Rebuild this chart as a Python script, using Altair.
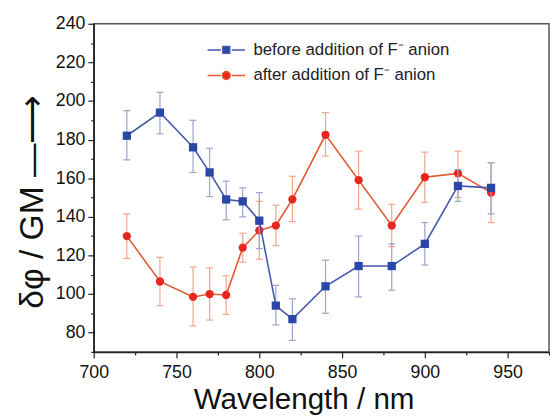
import altair as alt
import pandas as pd

wavelength = [720, 740, 760, 770, 780, 790, 800, 810, 820, 840, 860, 880, 900, 920, 940]

before = [182, 194, 176, 163, 149, 148, 138, 94, 87, 104, 114.5, 114.5, 126, 156, 155]
before_lo = [169.5, 183, 163, 150.5, 138.5, 140, 123.5, 84, 76, 90, 98.5, 102, 115, 148, 141.5]
before_hi = [195, 204.5, 190, 175.5, 158.5, 155, 152.5, 104.5, 97.5, 117.5, 130, 126, 137, 164.5, 168]

after = [130, 106.5, 98.5, 100, 99.5, 124, 133, 135.5, 149, 182.5, 159, 135.5, 160.5, 162.5, 152.5]
after_lo = [118.5, 94, 83.5, 86.5, 89.5, 116.5, 118, 125, 137.5, 171.5, 144, 124.5, 147.5, 150, 137]
after_hi = [141.5, 119, 114, 113.5, 109.5, 131.5, 148, 146, 161, 194, 174, 146.5, 173.5, 174, 168]

series_names = ["before addition of F\u207b anion", "after addition of F\u207b anion"]

x_ticks = [700, 725, 750, 775, 800, 825, 850, 875, 900, 925, 950, 975]
y_ticks = [70, 80, 90, 100, 110, 120, 130, 140, 150, 160, 170, 180, 190, 200, 210, 220, 230, 240]

BLUE_MARK, BLUE_LINE, BLUE_ERR = "#2a46a6", "#4558ad", "#9da2cd"
RED_MARK, RED_LINE, RED_ERR = "#e8261d", "#e4572f", "#f1a68b"

df_b = pd.DataFrame({"wl": wavelength, "v": before, "lo": before_lo, "hi": before_hi,
                     "series": series_names[0]})
df_a = pd.DataFrame({"wl": wavelength, "v": after, "lo": after_lo, "hi": after_hi,
                     "series": series_names[1]})
df_all = pd.concat([df_b, df_a], ignore_index=True)

FONT = "Liberation Sans"

x_axis = alt.Axis(
    values=x_ticks,
    labelExpr="datum.value % 50 === 0 && datum.value < 975 ? datum.label : ''",
    tickSize={"condition": {"test": "datum.value % 50 === 0", "value": 6}, "value": 3},
    grid=False, labelFlush=False, labelOverlap=False,
    domainColor="#222", domainWidth=1.5, tickColor="#222", tickWidth=1.2,
    labelColor="#111", labelFont=FONT, labelFontSize=18, labelPadding=6,
    titleFont=FONT, titleFontSize=30, titleFontWeight="normal", titleColor="#111",
    titleX=213, titleY=57, titleBaseline="alphabetic", titleAlign="center",
)
y_axis = alt.Axis(
    values=y_ticks,
    labelExpr="datum.value % 20 === 0 ? datum.label : ''",
    tickSize={"condition": {"test": "datum.value % 20 === 0", "value": 6}, "value": 3},
    grid=False, labelOverlap=False,
    domainColor="#222", domainWidth=1.5, tickColor="#222", tickWidth=1.2,
    labelColor="#111", labelFont=FONT, labelFontSize=18, labelPadding=3,
    titleFont=FONT, titleFontSize=34, titleFontWeight="normal", titleColor="#111",
    titleX=-52, titleY=180, titleBaseline="alphabetic", titleAlign="center", titleAngle=270,
)
x_scale = alt.Scale(domain=[700, 975], nice=False, zero=False)
y_scale = alt.Scale(domain=[70, 240], nice=False, zero=False)
Y_TITLE = "\u03b4\u03c6 / GM  \u2014\u27f6"
X_TITLE = "Wavelength / nm"


def X():
    return alt.X("wl:Q", scale=x_scale, axis=x_axis, title=X_TITLE)


def Y(field):
    return alt.Y(f"{field}:Q", scale=y_scale, axis=y_axis, title=Y_TITLE)


def series_layers(df, mark_color, line_color, err_color, shape):
    base = alt.Chart(df)
    err = base.mark_rule(color=err_color, strokeWidth=1.2).encode(x=X(), y=Y("lo"), y2="hi:Q")
    cap_lo = base.mark_tick(color=err_color, size=7, thickness=1.2, orient="horizontal",
                            opacity=1).encode(x=X(), y=Y("lo"))
    cap_hi = base.mark_tick(color=err_color, size=7, thickness=1.2, orient="horizontal",
                            opacity=1).encode(x=X(), y=Y("hi"))
    line = base.mark_line(color=line_color, strokeWidth=1.6).encode(x=X(), y=Y("v"))
    pts = base.mark_point(filled=True, color=mark_color, shape=shape, size=70,
                          opacity=1, strokeWidth=0).encode(x=X(), y=Y("v"))
    return [err, cap_lo, cap_hi, line, pts]


# legend symbols: line - marker - line (unit = 5 px for size 100)
sq_path = "M-3.8,0H-1.1M1.1,0H3.8M-0.7,-0.7H0.7V0.7H-0.7Z"
ci_path = "M-3.8,0H-1.1M1.1,0H3.8M0.8,0A0.8,0.8 0 1,1 -0.8,0A0.8,0.8 0 1,1 0.8,0Z"

legend = alt.Legend(
    title=None, orient="none", legendX=126, legendY=18, padding=0,
    labelFont=FONT, labelFontSize=17, labelColor="#222", labelOffset=19,
    symbolSize=100, symbolStrokeWidth=1.5, symbolOpacity=1, rowPadding=8,
    labelLimit=400,
)

legend_layer = alt.Chart(df_all).transform_filter("false").mark_point(
    filled=True, opacity=1
).encode(
    x=X(), y=Y("v"),
    fill=alt.Fill("series:N", scale=alt.Scale(domain=series_names, range=[BLUE_MARK, RED_MARK]),
                  legend=legend),
    stroke=alt.Stroke("series:N", scale=alt.Scale(domain=series_names, range=[BLUE_LINE, RED_LINE]),
                      legend=legend),
    shape=alt.Shape("series:N", scale=alt.Scale(domain=series_names, range=[sq_path, ci_path]),
                    legend=legend),
)

layers = (series_layers(df_a, RED_MARK, RED_LINE, RED_ERR, "circle")
          + series_layers(df_b, BLUE_MARK, BLUE_LINE, BLUE_ERR, "square")
          + [legend_layer])

chart = alt.layer(*layers).properties(
    width=462, height=333,
    autosize=alt.AutoSizeParams(type="none"),
    padding={"left": 87, "top": 13, "right": 1, "bottom": 62},
    background="white",
).configure_view(stroke="#555", strokeWidth=1.5)

chart.save("out.html", embed_options={"renderer": "svg", "actions": False})
